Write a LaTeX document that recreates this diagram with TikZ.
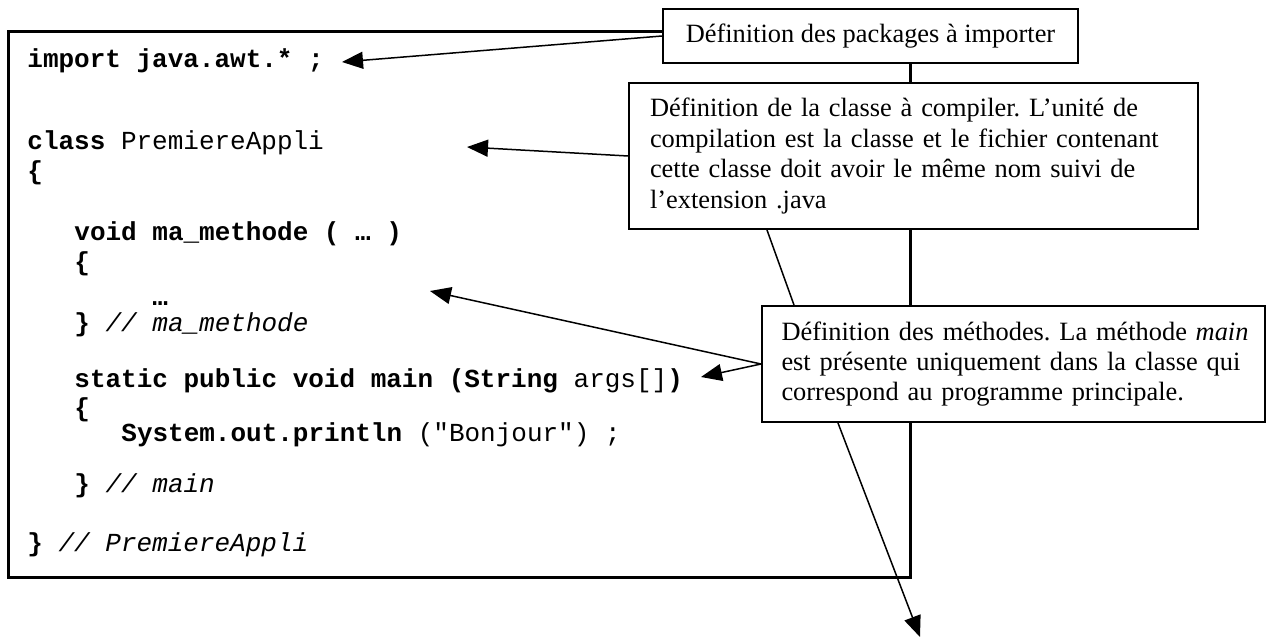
\documentclass[tikz,border=0pt]{standalone}
\usepackage{fontspec}
\setmainfont{Liberation Serif}
\setmonofont{Liberation Mono}
\usetikzlibrary{arrows.meta}
\frenchspacing

\tikzset{
  note/.style={draw, line width=1pt, fill=white, inner sep=0pt, align=left,
    font=\fontsize{13.2}{15.2}\selectfont},
  code/.style={anchor=mid west, inner sep=0pt, font=\fontsize{13}{15}\selectfont\ttfamily},
  pointer/.style={line width=0.75pt, -{Triangle[length=10.5pt,width=8.5pt]}},
  link/.style={line width=0.75pt},
}
% one justified line of a note
\newcommand{\jline}[1]{\makebox[\hsize][s]{#1}}

\begin{document}
\begin{tikzpicture}[x=0.5pt, y=-0.5pt]
  \useasboundingbox (0,0) rectangle (1271,642);

  % the program
  \draw[line width=1.5pt] (8,32) rectangle (910,577);
  \node[code] (imp) at (27,63) {\textbf{import java.awt.* ;}};
  \node[code] (cls) at (27,145) {\textbf{class} PremiereAppli};
  \node[code] (open1) at (27,175) {\textbf{\{}};
  \node[code] (meth) at (74,236) {\textbf{void ma\_methode ( … )}};
  \node[code] (open2) at (74,266) {\textbf{\{}};
  \node[code] (dots) at (152,301) {\textbf{…}};
  \node[code] (close2) at (74,327) {\textbf{\}} \textit{// ma\_methode}};
  \node[code] (mainl) at (74,383) {\textbf{static public void main (String} args[]\textbf{)}};
  \node[code] (open3) at (74,412) {\textbf{\{}};
  \node[code] (prt) at (121,437) {\textbf{System.out.println} ("Bonjour") ;};
  \node[code] (close3) at (74,488) {\textbf{\}} \textit{// main}};
  \node[code] (close1) at (27,547) {\textbf{\}} \textit{// PremiereAppli}};

  % the notes
  \node[note, minimum width=207.5pt, minimum height=27pt] (pkg) at (870.5,36)
    {Définition des packages à importer};
  \node[note, text width=263.5pt, minimum width=284.5pt, minimum height=73pt] (cla) at (913.5,156)
    {\jline{Définition de la classe à compiler. L’unité de}\\
     \jline{compilation est la classe et le fichier contenant}\\
     \jline{cette classe doit avoir le même nom suivi de}\\
     l’extension .java};
  \node[note, text width=232pt, minimum width=251.5pt, minimum height=58pt] (mth) at (1013.5,364)
    {\jline{Définition des méthodes. La méthode \textit{main}}\\
     \jline{est présente uniquement dans la classe qui}\\
     correspond au programme principale.};

  % pointers
  \coordinate (impTip) at (342,62);
  \coordinate (clsTip) at (467,147);
  \coordinate (dotsTip) at (430,291);
  \coordinate (argsTip) at (701,377);
  \coordinate (lowTip) at (920,637);
  \draw[pointer] (pkg.west) -- (impTip);
  \draw[pointer] (cla.west) -- (clsTip);
  \draw[pointer] (mth.west) -- (dotsTip);
  \draw[pointer] (mth.west) -- (argsTip);
  \draw[link] ([xshift=-73.25pt]cla.south) -- ([xshift=-109.75pt]mth.north);
  \draw[pointer] ([xshift=-87.75pt]mth.south) -- (lowTip);
\end{tikzpicture}
\end{document}
